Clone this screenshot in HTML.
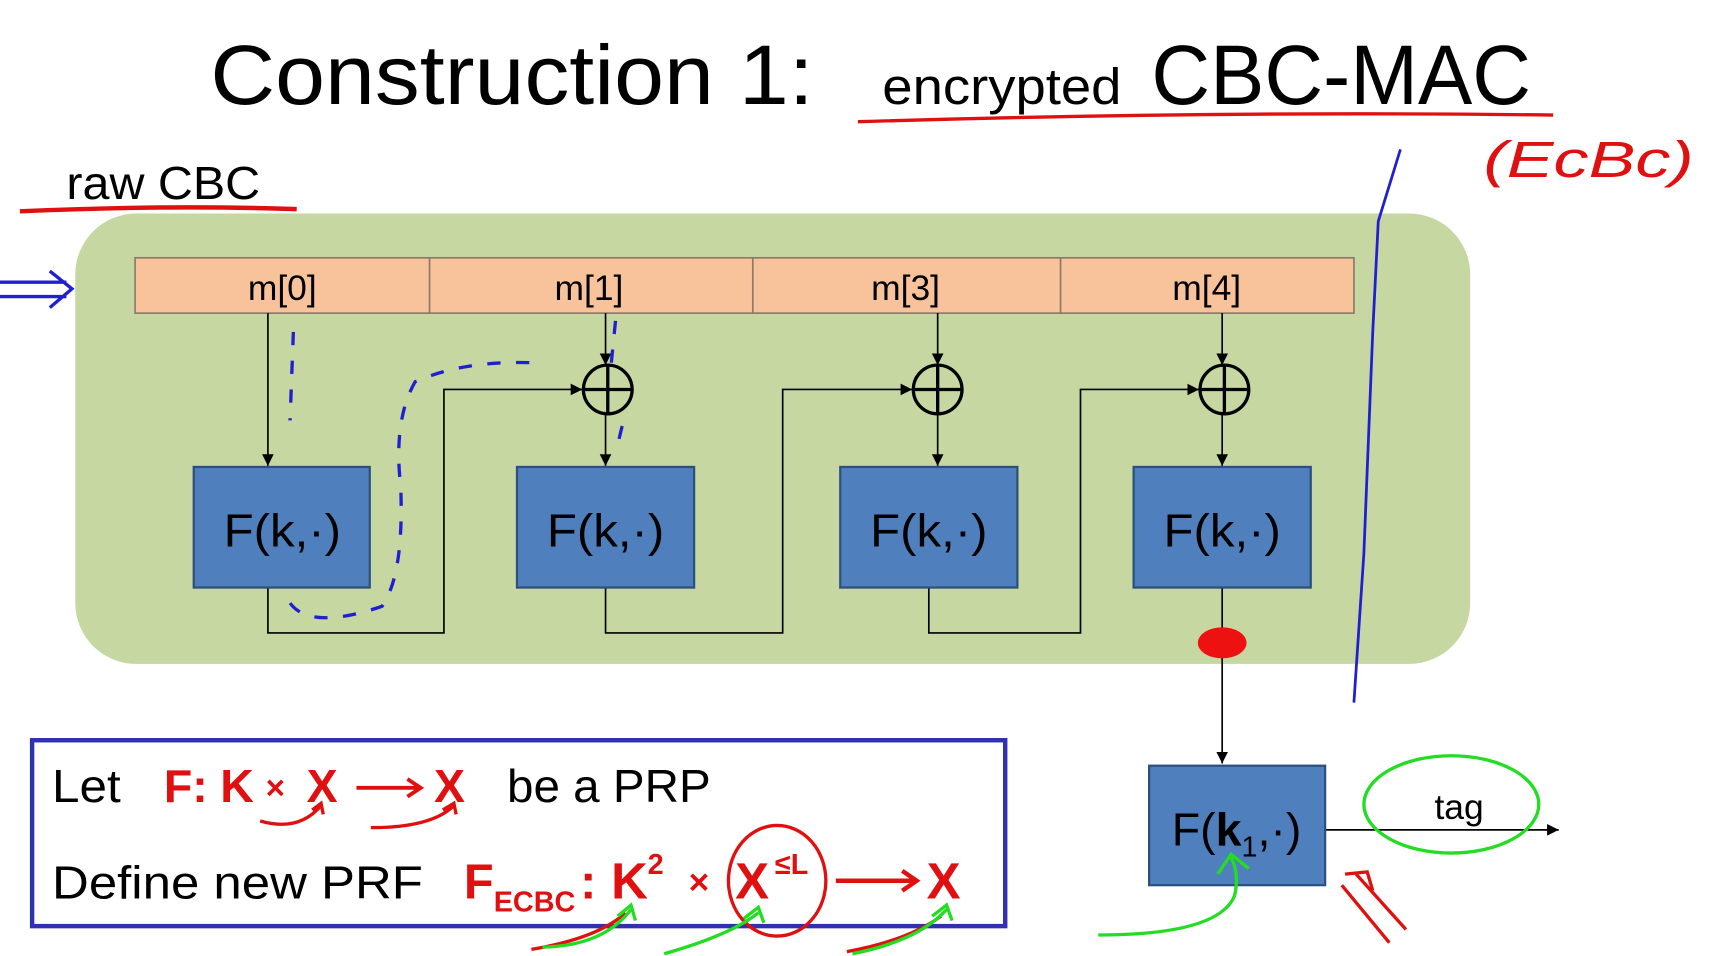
<!DOCTYPE html>
<html><head><meta charset="utf-8"><style>
html,body{margin:0;padding:0;background:#fff;width:1727px;height:956px;overflow:hidden}
svg{display:block}
text{font-family:"Liberation Sans",sans-serif}
</style></head><body>
<svg width="1727" height="956" viewBox="0 0 1560 864" preserveAspectRatio="none" xmlns="http://www.w3.org/2000/svg">
<defs>
<marker id="a" viewBox="0 0 10 10" refX="10" refY="5" markerWidth="7" markerHeight="7" orient="auto"><path d="M0,0L10,5L0,10z" fill="#000"/></marker>
</defs>
<rect width="1560" height="864" fill="#fff"/>
<!-- title -->
<text x="190" y="94" font-size="76" fill="#000" textLength="545" lengthAdjust="spacingAndGlyphs">Construction 1:</text>
<text x="797" y="94" font-size="46" fill="#000" textLength="216" lengthAdjust="spacingAndGlyphs">encrypted</text>
<text x="1040" y="94" font-size="76" fill="#000" textLength="343" lengthAdjust="spacingAndGlyphs">CBC-MAC</text>
<path d="M775,110 Q1100,100 1403,104" stroke="#e01010" stroke-width="3" fill="none"/>
<text x="1340" y="160" font-size="46" fill="#e01010" font-style="italic" textLength="190" lengthAdjust="spacingAndGlyphs">(EcBc)</text>
<text x="60" y="180" font-size="42" fill="#000" textLength="175" lengthAdjust="spacingAndGlyphs">raw CBC</text>
<path d="M18,191 Q150,185 268,189" stroke="#e01010" stroke-width="4" fill="none"/>
<!-- green panel -->
<rect x="68" y="193" width="1260" height="407" rx="55" fill="#c6d7a2"/>
<path d="M1265,135 L1245,200 L1240,300 L1232,500 L1223,635" stroke="#2020d0" stroke-width="2.5" fill="none"/>
<!-- message bar -->
<rect x="122" y="233" width="1101" height="50" fill="#f8c39b" stroke="#8a7a6a" stroke-width="1.5"/>
<path d="M388,233V283M680,233V283M958,233V283" stroke="#8a7a6a" stroke-width="1.5"/>
<g font-size="32" fill="#000" text-anchor="middle">
<text x="255" y="271">m[0]</text><text x="532" y="271">m[1]</text><text x="818" y="271">m[3]</text><text x="1090" y="271">m[4]</text>
</g>
<!-- connectors -->
<g stroke="#000" stroke-width="1.5" fill="none">
<path d="M242,283V421" marker-end="url(#a)"/>
<path d="M242,531V572H401V352H526" marker-end="url(#a)"/>
<path d="M547,283V330" marker-end="url(#a)"/>
<path d="M547,374V421" marker-end="url(#a)"/>
<path d="M547,531V572H707V352H824" marker-end="url(#a)"/>
<path d="M847,283V330" marker-end="url(#a)"/>
<path d="M847,374V421" marker-end="url(#a)"/>
<path d="M839,531V572H976V352H1083" marker-end="url(#a)"/>
<path d="M1104,283V330" marker-end="url(#a)"/>
<path d="M1104,374V421" marker-end="url(#a)"/>
<path d="M1104,531V690" marker-end="url(#a)"/>
<path d="M1197,750H1408" marker-end="url(#a)"/>
</g>
<g stroke="#000" stroke-width="3" fill="none">
<circle cx="549" cy="352" r="22"/><path d="M527,352H571M549,330V374"/>
<circle cx="847" cy="352" r="22"/><path d="M825,352H869M847,330V374"/>
<circle cx="1106" cy="352" r="22"/><path d="M1084,352H1128M1106,330V374"/>
</g>
<!-- boxes -->
<g fill="#4f7fbd" stroke="#2c4f7c" stroke-width="2">
<rect x="175" y="422" width="159" height="109"/>
<rect x="467" y="422" width="160" height="109"/>
<rect x="759" y="422" width="160" height="109"/>
<rect x="1024" y="422" width="160" height="109"/>
<rect x="1038" y="692" width="159" height="108"/>
</g>
<g font-size="42" fill="#000" text-anchor="middle">
<text x="255" y="494" textLength="106" lengthAdjust="spacingAndGlyphs">F(k,·)</text><text x="547" y="494" textLength="106" lengthAdjust="spacingAndGlyphs">F(k,·)</text><text x="839" y="494" textLength="106" lengthAdjust="spacingAndGlyphs">F(k,·)</text><text x="1104" y="494" textLength="106" lengthAdjust="spacingAndGlyphs">F(k,·)</text>
<text x="1117" y="764">F(<tspan font-weight="bold">k</tspan><tspan font-size="26" dy="10">1</tspan><tspan dy="-10">,·)</tspan></text>
</g>
<text x="1318" y="740" font-size="32" fill="#000" text-anchor="middle">tag</text>
<ellipse cx="1311" cy="727" rx="79" ry="44" stroke="#22dd22" stroke-width="3" fill="none"/>
<ellipse cx="1104" cy="581" rx="22" ry="14" fill="#ee1111"/>
<!-- blue dashes annotations -->
<g stroke="#2020d0" stroke-width="3" fill="none" stroke-dasharray="12,14">
<path d="M265,300 L262,380"/>
<path d="M556,290 L552,330"/>
<path d="M562,385 L556,410"/>
<path d="M262,545 Q280,570 345,548 Q365,520 362,440 Q355,380 375,345 Q420,325 485,328"/>
</g>
<path d="M0,255 L60,255 M0,268 L60,268 M45,245 L65,261 L45,278" stroke="#2020d0" stroke-width="3" fill="none"/>
<!-- bottom box -->
<rect x="29" y="669" width="879" height="168" fill="none" stroke="#3030b0" stroke-width="4"/>
<text x="47" y="725" font-size="42" fill="#000" textLength="62" lengthAdjust="spacingAndGlyphs">Let</text>
<g font-size="42" fill="#e01010" font-weight="bold">
<text x="148" y="725">F:</text>
<text x="199" y="725">K</text>
<text x="240" y="722" font-size="30">×</text>
<text x="277" y="725">X</text>
<text x="392" y="725">X</text>
</g>
<path d="M322,712H378M368,704L380,712L368,720" stroke="#e01010" stroke-width="3.5" fill="none"/>
<text x="458" y="725" font-size="42" fill="#000" textLength="184" lengthAdjust="spacingAndGlyphs">be a PRP</text>
<text x="47" y="812" font-size="42" fill="#000" textLength="335" lengthAdjust="spacingAndGlyphs">Define new PRF</text>
<g fill="#e01010" font-weight="bold">
<text x="419" y="812" font-size="44">F</text>
<text x="446" y="824" font-size="26">ECBC</text>
<text x="524" y="812" font-size="44">:</text>
<text x="552" y="812" font-size="46">K</text>
<text x="585" y="790" font-size="26">2</text>
<text x="622" y="808" font-size="32">×</text>
<text x="664" y="812" font-size="46">X</text>
<text x="700" y="790" font-size="26">≤L</text>
<text x="837" y="812" font-size="46">X</text>
</g>
<path d="M755,796H826M815,787L828,796L815,805" stroke="#e01010" stroke-width="4" fill="none"/>
<ellipse cx="702" cy="796" rx="44" ry="50" stroke="#e01010" stroke-width="3" fill="none"/>
<g stroke="#e01010" stroke-width="3" fill="none">
<path d="M235,742 Q270,752 290,728 M282,732 L290,726 L292,736"/>
<path d="M335,748 Q390,748 410,728 M400,732 L410,726 L412,736"/>
<path d="M1225,790 L1270,840 M1212,800 L1255,852 M1215,790 L1235,788 L1240,805"/>
<path d="M480,858 Q540,848 565,825"/>
<path d="M765,860 Q820,850 850,828"/>
</g>
<g stroke="#22dd22" stroke-width="3" fill="none">
<path d="M992,845 Q1100,845 1115,810 Q1120,790 1112,775 M1100,790 L1112,772 L1128,785"/>
<path d="M490,856 Q545,855 570,822 M558,828 L570,818 L574,832"/>
<path d="M600,862 Q660,845 685,825 M672,830 L685,820 L690,834"/>
<path d="M770,862 Q830,850 855,822 M842,828 L855,818 L860,832"/>
</g>
</svg>
</body></html>
